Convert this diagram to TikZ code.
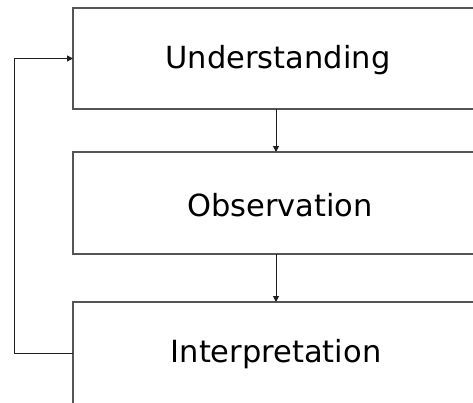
\documentclass[tikz,border=0pt]{standalone}
\usepackage{fontspec}
\setmainfont{DejaVu Sans}
\usetikzlibrary{arrows.meta}
\definecolor{framegray}{RGB}{85,85,85}
\definecolor{linkgray}{RGB}{30,30,30}
\begin{document}
\begin{tikzpicture}[x=1pt,y=-1pt,
  stage/.style={draw=framegray, line width=1.3pt, inner sep=0pt, outer sep=0pt,
                anchor=north west, minimum width=430pt},
  caption/.style={anchor=base, inner sep=0pt, text=black,
                  font=\fontsize{30.5}{36}\selectfont},
  flow/.style={draw=linkgray, line width=1pt,
               -{Triangle[length=6pt,width=6pt]}}]
  \useasboundingbox (0,0) rectangle (473,402);

  % three stacked stages, running off the right edge
  \node[stage, minimum height=101pt] (top) at (73,8) {};
  \node[stage, minimum height=102pt] (mid) at (73,152) {};
  \node[stage, minimum height=130pt] (bot) at (73,302) {};

  \node[caption] (t1) at (278,68)  {Understanding};
  \node[caption] (t2) at (280,216) {Observation};
  \node[caption] (t3) at (276,362) {Interpretation};

  % vertical axis of the forward arrows and the return path
  \coordinate (axis) at (276,0);
  \coordinate (back) at (14,353);

  \draw[flow] (top.south -| axis) -- (mid.north -| axis);
  \draw[flow] (mid.south -| axis) -- (bot.north -| axis);
  \draw[flow] (back -| bot.west) -- (back) |- (top.west);
\end{tikzpicture}
\end{document}
